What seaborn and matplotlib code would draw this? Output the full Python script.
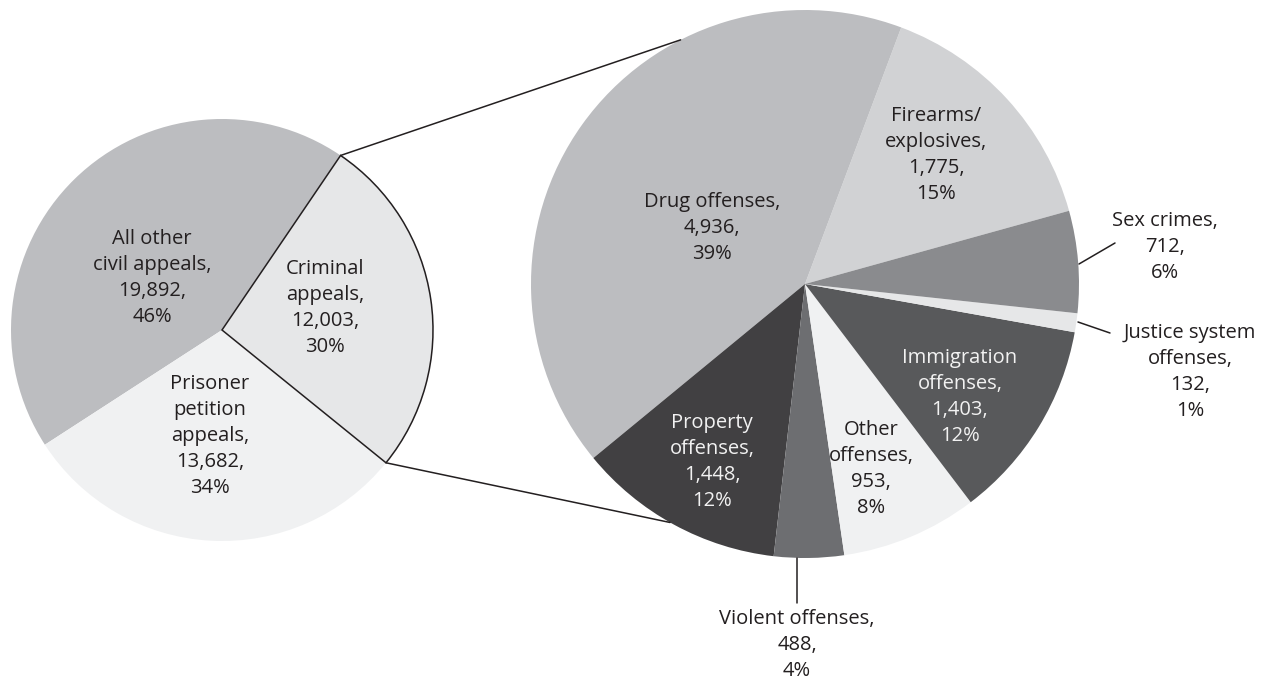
import matplotlib
matplotlib.use("Agg")
import matplotlib.pyplot as plt
import seaborn as sns
import numpy as np

# Appeals filed, by type
appeal_names = ["Criminal\nappeals", "All other\ncivil appeals", "Prisoner\npetition\nappeals"]
appeal_counts = [12003, 19892, 13682]
appeal_pcts = [30, 46, 34]

# Criminal appeals, by offense
offense_names = ["Firearms/\nexplosives", "Drug offenses", "Property\noffenses",
                 "Violent offenses", "Other\noffenses", "Immigration\noffenses",
                 "Justice system\noffenses", "Sex crimes"]
offense_counts = [1775, 4936, 1448, 488, 953, 1403, 132, 712]
offense_pcts = [15, 39, 12, 4, 8, 12, 1, 6]

sns.set_theme(style="white")
plt.rcParams["font.family"] = ["Open Sans", "DejaVu Sans"]

W, H = 1262, 681
fig = plt.figure(figsize=(W / 100, H / 100), dpi=100)
ax = fig.add_axes([0, 0, 1, 1])
ax.set_xlim(0, W)
ax.set_ylim(0, H)
ax.set_aspect("equal")
ax.axis("off")

TXT = "#231f20"
LIGHT_TXT = "#f2f2f2"

left_colors = ["#e6e7e8", "#bcbdc0", "#f0f1f2"]
right_colors = ["#d1d2d4", "#bcbdc0", "#414042", "#6d6e71",
                "#f0f1f2", "#58595b", "#e6e7e8", "#8a8b8e"]

lc, lr = (222, H - 330), 211
rc, rr = (805, H - 284), 274

lw_, _ = ax.pie(appeal_counts, colors=left_colors, startangle=-39, counterclock=True,
                center=lc, radius=lr, wedgeprops=dict(linewidth=0))
rw_, _ = ax.pie(offense_counts, colors=right_colors, startangle=15.5, counterclock=True,
                center=rc, radius=rr, wedgeprops=dict(linewidth=0))
ax.set_xlim(0, W)
ax.set_ylim(0, H)

# outline the exploded slice
crim = lw_[0]
crim.set_edgecolor("#231f20")
crim.set_linewidth(1.1)
crim.set_zorder(3)

# connector lines from the criminal slice to the breakdown pie
def on_circle(c, r, deg):
    t = np.deg2rad(deg)
    return c[0] + r * np.cos(t), c[1] + r * np.sin(t)

p_top = on_circle(lc, lr, crim.theta2)
p_bot = on_circle(lc, lr, crim.theta1)
q_top = on_circle(rc, rr, 117)
q_bot = on_circle(rc, rr, 240.5)
ax.plot([p_top[0], q_top[0]], [p_top[1], q_top[1]], color="#231f20", lw=1.1, zorder=4)
ax.plot([p_bot[0], q_bot[0]], [p_bot[1], q_bot[1]], color="#231f20", lw=1.1, zorder=4)

def label(name, count, pct):
    return f"{name},\n{count:,},\n{pct}%"

FS = 14.5
LS = 1.4

left_pos = [(325, 308), (152, 278), (210, 436)]
for name, cnt, pct, (x, y) in zip(appeal_names, appeal_counts, appeal_pcts, left_pos):
    ax.text(x, H - y, label(name, cnt, pct), ha="center", va="center",
            fontsize=FS, color=TXT, linespacing=LS, zorder=5)

right_pos = [(936, 155), (712, 228), (712, 462), (797, 645),
             (871, 469), (960, 397), (1190, 372), (1165, 247)]
right_txt = [TXT, TXT, LIGHT_TXT, TXT, TXT, LIGHT_TXT, TXT, TXT]
for name, cnt, pct, (x, y), col in zip(offense_names, offense_counts, offense_pcts,
                                       right_pos, right_txt):
    ax.text(x, H - y, label(name, cnt, pct), ha="center", va="center",
            fontsize=FS, color=col, linespacing=LS, zorder=5)

# leader lines for small slices
leaders = [((1079, 264), (1115, 243)),
           ((1078, 322), (1110, 333)),
           ((797, 558), (797, 603))]
for (x0, y0), (x1, y1) in leaders:
    ax.plot([x0, x1], [H - y0, H - y1], color="#231f20", lw=1.1, zorder=4)

fig.savefig("out.png", dpi=100, facecolor="white")
